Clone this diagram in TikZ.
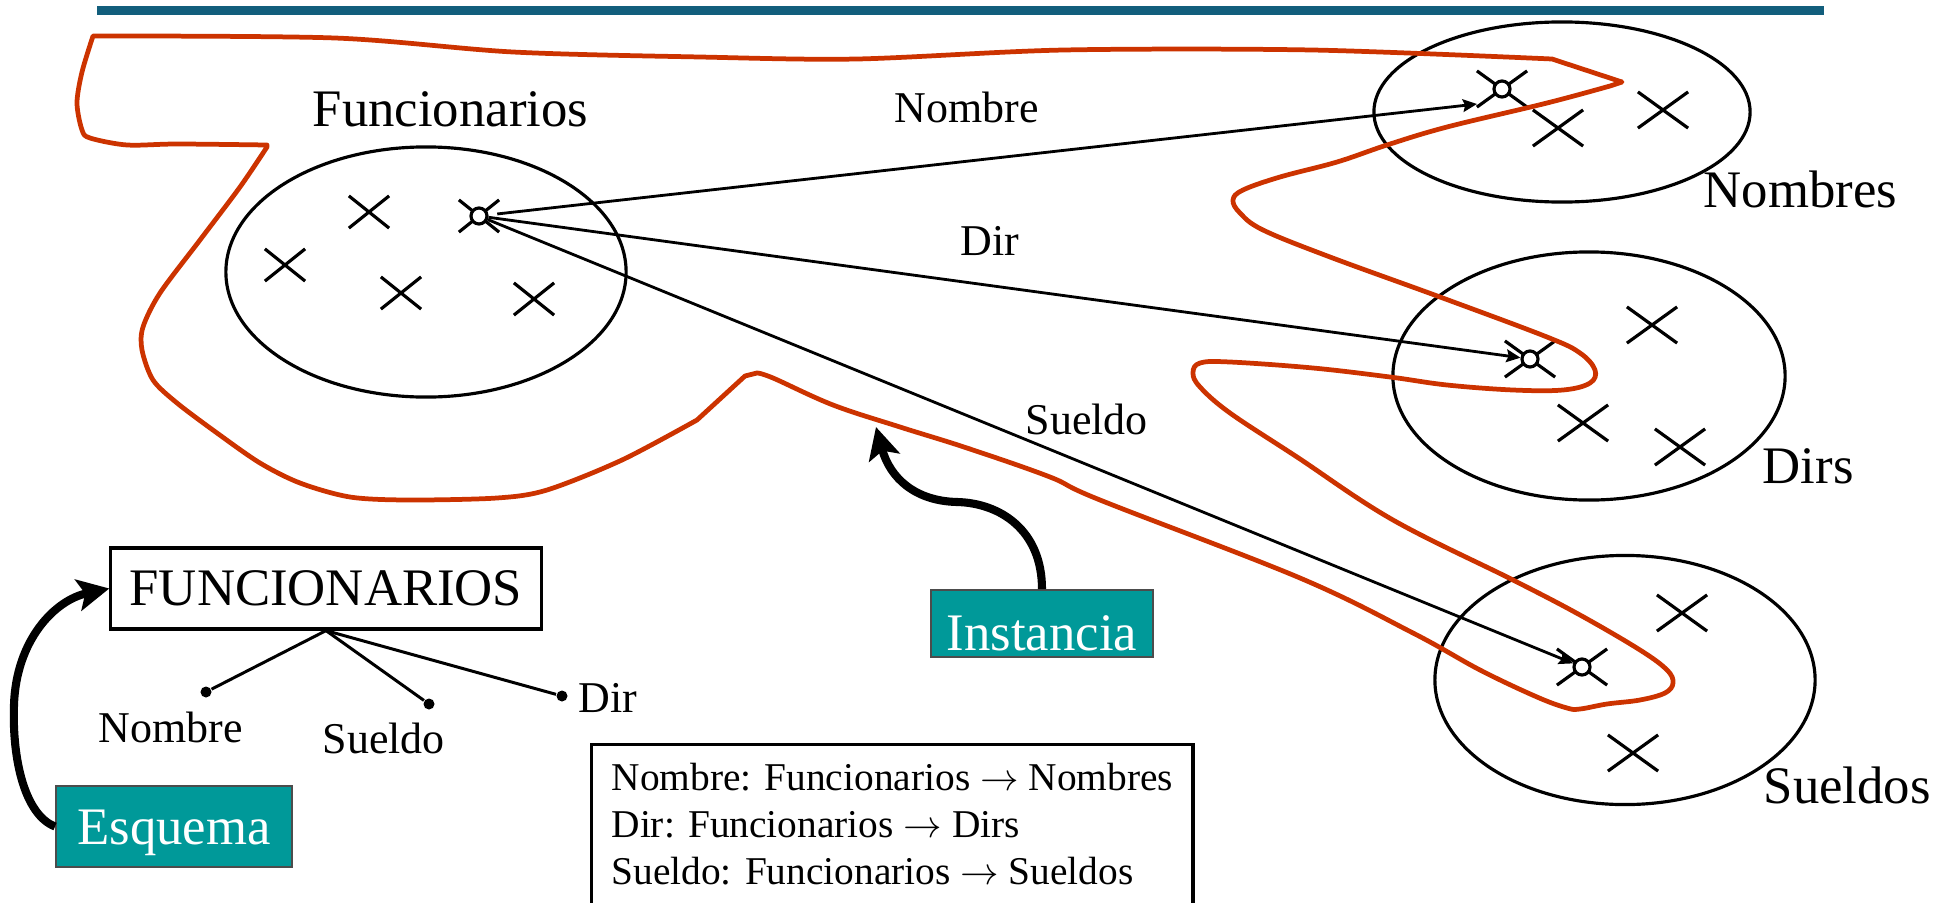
\documentclass[tikz,border=0pt]{standalone}
\usepackage{fontspec}
\setmainfont{Liberation Serif}
\usetikzlibrary{arrows.meta,shapes.geometric,shapes.misc}
\definecolor{barblue}{RGB}{18,94,124}
\definecolor{instred}{RGB}{204,51,0}
\definecolor{boxteal}{RGB}{0,153,153}
\newcommand{\SizeBig}{\fontsize{15pt}{18pt}\selectfont}
\newcommand{\SizeMid}{\fontsize{12.5pt}{15pt}\selectfont}
\newcommand{\SizeSmall}{\fontsize{11.2pt}{13.37pt}\selectfont}

\begin{document}
\begin{tikzpicture}[x=0.01cm, y=-0.01cm,
    conj/.style={ellipse, draw, line width=0.9pt, inner sep=0pt},
    elem/.style={cross out, draw, line width=0.9pt, inner sep=0pt, minimum width=0.47cm, minimum height=0.33cm},
    selem/.style={elem, minimum width=0.37cm, minimum height=0.29cm},
    pick/.style={circle, draw, fill=white, line width=0.9pt, inner sep=0pt, minimum size=0.16cm},
    setname/.style={font=\SizeBig, inner sep=0pt, anchor=base west},
    fname/.style={font=\SizeMid, inner sep=0pt, anchor=base west},
    attr/.style={circle, fill, inner sep=0pt, minimum size=0.11cm},
    tagbox/.style={draw=black!70, line width=0.5pt, fill=boxteal, text=white, font=\SizeBig, inner sep=0pt},
    map/.style={-{Stealth[length=4pt,width=3.6pt,inset=0.6pt]}, line width=0.8pt},
    bigarrow/.style={-{Stealth[length=9pt,width=9pt,inset=2pt]}, line width=2.3pt},
    instline/.style={instred, line width=1.35pt, line join=round}]
    \path[use as bounding box, clip] (0,0) rectangle (1948,903);
    \draw[barblue, line width=0.09cm] (97,10.5) -- (1824,10.5);

    \node[conj, minimum width=4cm, minimum height=2.5cm] (SF) at (426,272) {};
    \node[conj, minimum width=3.76cm, minimum height=1.8cm] (SN) at (1562,112) {};
    \node[conj, minimum width=3.92cm, minimum height=2.48cm] (SD) at (1589,376) {};
    \node[conj, minimum width=3.8cm, minimum height=2.49cm] (SS) at (1625,680) {};

    \node[setname] (LF) at (312,126) {Funcionarios};
    \node[setname] (LN) at (1703,207) {Nombres};
    \node[setname] (LD) at (1762,483) {Dirs};
    \node[setname] (LS) at (1763,803) {Sueldos};

    \foreach \p [count=\i] in {(369,212),(285,265),(401,293),(534,299)}
        \node[selem] (xF\i) at \p {};
    \foreach \p [count=\i] in {(1558,128),(1663,110)}
        \node[elem] (xN\i) at \p {};
    \foreach \p [count=\i] in {(1652,325),(1583,423),(1680,447)}
        \node[elem] (xD\i) at \p {};
    \foreach \p [count=\i] in {(1682,613),(1633,753)}
        \node[elem] (xS\i) at \p {};

    \node[selem] (xF0) at (479,216) {};
    \node[elem] (xN0) at (1502,89) {};
    \node[elem] (xD0) at (1530,359) {};
    \node[elem] (xS0) at (1582,667) {};
    \node[pick] (pF) at (xF0) {};
    \node[pick] (pN) at (xN0) {};
    \node[pick] (pD) at (xD0) {};
    \node[pick] (pS) at (xS0) {};

    \coordinate (tipN) at (1477,104);
    \draw[map, shorten <=2.5pt] (pF) -- (tipN);
    \draw[map] (pF) -- (pD);
    \draw[map] (pF) -- (pS);
    \node[fname] (aN) at (894,123) {Nombre};
    \node[fname] (aD) at (960,255) {Dir};
    \node[fname] (aS) at (1025,434) {Sueldo};

    \node[draw, line width=0.9pt, font=\SizeBig, inner sep=0pt, minimum width=4.3cm, minimum height=0.81cm] (FB) at (326,588.5) {FUNCIONARIOS};
    \node[attr] (dN) at (206,692) {};
    \node[attr] (dS) at (429,704) {};
    \node[attr] (dD) at (562,696) {};
    \draw[line width=0.85pt] (FB.south) -- (dN);
    \draw[line width=0.85pt] (FB.south) -- (dS);
    \draw[line width=0.85pt] (FB.south) -- (dD);
    \node[fname] (tN) at (98,742) {Nombre};
    \node[fname] (tS) at (322,753) {Sueldo};
    \node[fname] (tD) at (578,712) {Dir};

    \node[tagbox, minimum width=2.36cm, text height=0.58cm, text depth=0.23cm] (esq) at (174,826.5) {Esquema};
    \node[tagbox, minimum width=2.22cm, text height=0.6cm, text depth=0.07cm] (inst) at (1042,623.5) {Instancia};
    \draw[bigarrow] (esq.west) .. controls (25,815) and (12,760) .. (14,705) .. controls (16,640) and (55,600) .. (FB.west);
    \coordinate (tipI) at (876,427);
    \draw[bigarrow] (inst.north) .. controls (1042,530) and (1000,503) .. (957,502) .. controls (915,501) and (890,478) .. (tipI);

    \node[draw, line width=0.9pt, font=\SizeSmall, align=left, anchor=north west, inner xsep=0.15cm, inner ysep=0.19cm, minimum width=6.01cm] (leg) at (590,743)
        {Nombre: Funcionarios $\rightarrow$ Nombres\\Dir: Funcionarios $\rightarrow$ Dirs\\Sueldo: Funcionarios $\rightarrow$ Sueldos\rule[-0.4cm]{0pt}{0pt}};

    \draw[instline] plot[smooth, tension=0.5] coordinates {(93,36) (335,38) (513,52) (700,57) (857,59) (1064,50) (1312,50) (1552,59)}
        -- (1622,82) -- (1610,86)
        -- plot[smooth, tension=0.6] coordinates {(1610,86) (1547,103) (1447,127) (1387,145) (1337,162) (1280,177) (1243,190) (1233,200) (1240,213) (1263,230) (1330,257) (1440,297) (1547,337) (1580,353) (1595,370) (1590,383) (1563,390) (1513,390) (1447,385) (1390,377) (1313,368) (1230,362) (1200,363) (1193,373) (1200,387) (1230,413) (1297,457) (1393,520) (1513,580) (1580,615) (1640,650) (1667,670) (1673,683) (1665,693) (1640,700) (1607,704) (1580,709) (1567,708) (1537,697) (1480,670) (1413,633) (1300,578) (1100,500) (1050,477) (967,448) (900,427) (833,405) (773,378) (757,373)}
        -- (745,376) -- (697,420)
        -- plot[smooth, tension=0.5] coordinates {(697,420) (622,460) (547,490) (497,498) (408,500) (350,497) (300,483) (260,463) (217,433) (177,403) (153,380) (142,350) (143,327) (160,293) (200,240) (240,187) (267,147)}
        -- plot[smooth, tension=0.5] coordinates {(267,145) (177,144) (127,145) (90,138) (82,130) (77,103) (82,72) (93,36)} -- cycle;
\end{tikzpicture}
\end{document}
